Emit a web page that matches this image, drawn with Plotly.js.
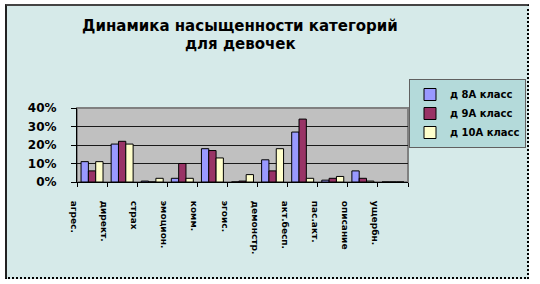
<!DOCTYPE html>
<html>
<head>
<meta charset="utf-8">
<script src="https://cdn.plot.ly/plotly-3.0.1.min.js"></script>
<style>
  html, body { margin: 0; padding: 0; background: #ffffff; width: 540px; height: 284px; overflow: hidden; }
  #frame { position: absolute; left: 5px; top: 4px; width: 524px; height: 275px; box-sizing: border-box;
           background: #d6eae9; border-left: 2px solid #222; border-top: 2px solid #444;
           border-right: 2px dotted #000; border-bottom: 2px dotted #000; }
  #chart { position: absolute; left: 0; top: 0; width: 527px; height: 284px; overflow: hidden; }
</style>
</head>
<body>
<div id="frame"></div>
<div id="chart"></div>
<script>
const categories = ['агрес.', 'директ.', 'страх', 'эмоцион.', 'комм.', 'эгоис.', 'демонстр.', 'акт.бесп.', 'пас.акт.', 'описание', 'ущербн.'];
const seriesNames = ['д 8А класс', 'д 9А класс', 'д 10А класс'];
const d8A  = [11, 20.5, 0.5, 2, 18, 0, 12, 27, 1, 6, 0];
const d9A  = [6, 22, 0, 10, 17, 0.5, 6, 34, 2, 2, 0];
const d10A = [11, 20.5, 2, 2, 13, 4, 18, 2, 3, 0.5, 0];
const yTicks = [0, 10, 20, 30, 40];
const yTickLabels = ['0%', '10%', '20%', '30%', '40%'];
const titleLine1 = 'Динамика насыщенности категорий';
const titleLine2 = 'для девочек';

const colors = ['#9999ff', '#993366', '#ffffcc'];
const values = [d8A, d9A, d10A];
const FONT = 'DejaVu Sans, Liberation Sans, Arial, sans-serif';

const traces = values.map((v, i) => ({
  type: 'bar',
  name: seriesNames[i],
  x: categories,
  y: v,
  marker: { color: colors[i], line: { color: '#000000', width: 1 } },
  hoverinfo: 'skip'
}));

const layout = {
  width: 527, height: 284,
  paper_bgcolor: 'rgba(0,0,0,0)',
  plot_bgcolor: '#c0c0c0',
  margin: { l: 77, r: 119, t: 108, b: 102, autoexpand: false },
  barmode: 'group',
  bargap: 0.27,
  bargroupgap: 0,
  showlegend: true,
  title: {
    text: titleLine1,
    font: { family: FONT, size: 15, weight: 'bold', color: '#000' },
    xref: 'container', x: 240 / 527, xanchor: 'center',
    yref: 'container', y: 1 - 20 / 284, yanchor: 'top'
  },
  annotations: [{
    text: titleLine2, showarrow: false,
    xref: 'paper', yref: 'paper',
    x: (240 - 77) / 331, y: (182 - 44) / 74,
    xanchor: 'center', yanchor: 'middle',
    font: { family: FONT, size: 15, weight: 'bold', color: '#000' }
  }],
  xaxis: {
    type: 'category',
    tickson: 'boundaries',
    ticks: 'outside', ticklen: 4, tickcolor: '#000', tickwidth: 1,
    showline: true, linecolor: '#000', linewidth: 1,
    showgrid: false, zeroline: false,
    tickangle: 90,
    ticklabelshift: -18,
    ticklabelstandoff: 16,
    tickfont: { family: FONT, size: 9, weight: 'bold', color: '#000' },
    fixedrange: true
  },
  yaxis: {
    range: [0, 40],
    tickmode: 'array',
    tickvals: yTicks,
    ticktext: yTickLabels,
    ticks: 'outside', ticklen: 5, tickcolor: '#000', tickwidth: 1,
    showline: true, linecolor: '#000', linewidth: 1,
    showgrid: true, gridcolor: '#1a1a1a', gridwidth: 1,
    zeroline: false,
    ticklabelstandoff: 12,
    tickfont: { family: FONT, size: 12, weight: 'bold', color: '#000' },
    fixedrange: true
  },
  legend: {
    x: (409 - 77) / 331, xanchor: 'left',
    y: (182 - 79) / 74, yanchor: 'top',
    bgcolor: '#b4dada', bordercolor: '#606060', borderwidth: 1,
    font: { family: FONT, size: 10, weight: 'bold', color: '#000' },
    itemclick: false, itemdoubleclick: false
  },
  shapes: [{
    type: 'rect', xref: 'paper', yref: 'paper', x0: 0, x1: 1, y0: 0, y1: 1,
    line: { color: '#808080', width: 2 }, layer: 'below'
  }]
};

Plotly.newPlot('chart', traces, layout, { displayModeBar: false, staticPlot: true });
</script>
</body>
</html>
